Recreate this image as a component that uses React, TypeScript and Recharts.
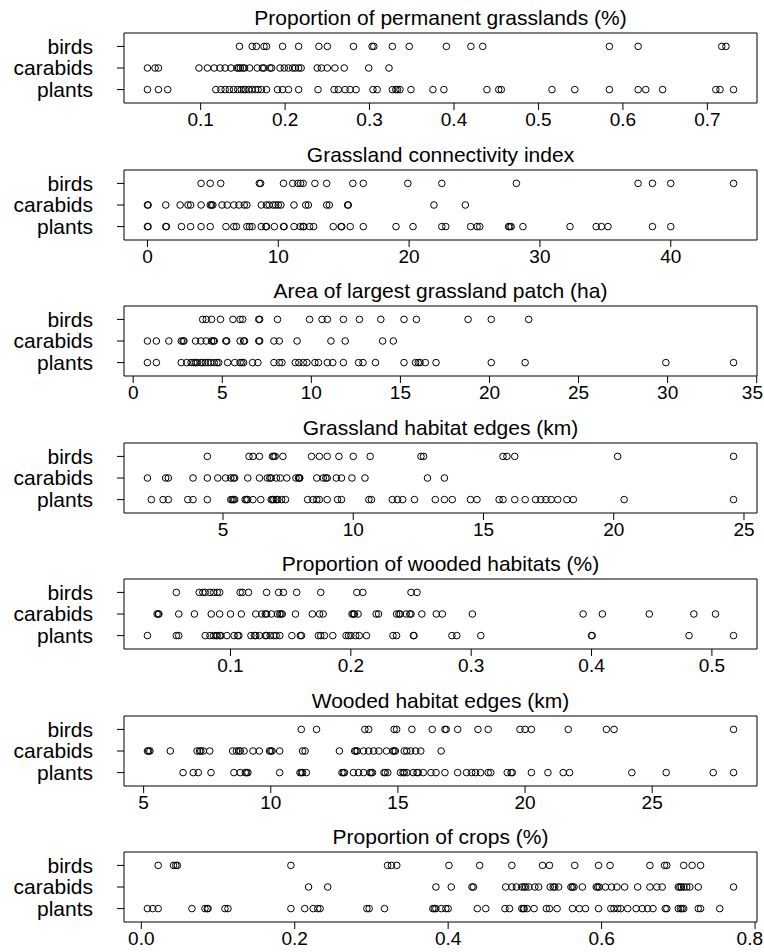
import React from "react";
import {
  ReferenceArea,
  Scatter,
  ScatterChart,
  XAxis,
  YAxis,
} from "recharts";

// Strip charts: one row per taxon.
const permGrassBirds = [0.146, 0.161, 0.166, 0.175, 0.178, 0.197, 0.216, 0.24, 0.25, 0.281, 0.303, 0.305, 0.327, 0.347, 0.391, 0.42, 0.434, 0.584, 0.618, 0.717, 0.722];
const permGrassCarabids = [0.037, 0.046, 0.05, 0.098, 0.108, 0.116, 0.123, 0.129, 0.136, 0.143, 0.145, 0.147, 0.15, 0.152, 0.158, 0.167, 0.173, 0.175, 0.182, 0.184, 0.194, 0.199, 0.204, 0.209, 0.212, 0.216, 0.219, 0.238, 0.243, 0.25, 0.259, 0.27, 0.299, 0.323];
const permGrassPlants = [0.037, 0.05, 0.061, 0.118, 0.124, 0.129, 0.134, 0.139, 0.144, 0.148, 0.151, 0.153, 0.157, 0.161, 0.165, 0.168, 0.172, 0.178, 0.191, 0.197, 0.204, 0.216, 0.239, 0.258, 0.263, 0.271, 0.277, 0.284, 0.304, 0.309, 0.327, 0.331, 0.333, 0.336, 0.349, 0.375, 0.388, 0.439, 0.453, 0.456, 0.516, 0.543, 0.584, 0.618, 0.627, 0.647, 0.71, 0.715, 0.731];

const connBirds = [4.1, 4.8, 5.6, 8.55, 8.65, 10.4, 11.1, 11.5, 11.7, 11.9, 12.8, 13.7, 15.7, 16.5, 19.9, 22.5, 28.2, 37.5, 38.6, 40.0, 44.8];
const connCarabids = [0, 0.05, 1.4, 2.5, 3.1, 3.3, 4.1, 4.8, 4.9, 5.0, 5.7, 6.1, 6.6, 7.0, 7.4, 7.6, 8.7, 9.1, 9.3, 9.6, 9.8, 10.0, 10.2, 11.2, 12.1, 12.3, 13.7, 13.9, 15.3, 15.35, 21.9, 24.3];
const connPlants = [0, 0.05, 1.4, 1.45, 2.6, 3.3, 4.1, 4.8, 6.0, 6.6, 6.8, 7.6, 7.8, 8.0, 8.7, 9.05, 9.1, 9.7, 10.4, 10.45, 11.2, 11.7, 11.9, 11.95, 12.4, 12.7, 14.2, 14.8, 14.85, 15.5, 16.5, 19.0, 20.3, 22.5, 22.8, 24.7, 25.2, 25.4, 27.6, 27.7, 27.8, 28.7, 32.3, 34.3, 34.7, 35.2, 38.6, 40.0];

const areaBirds = [3.9, 4.1, 4.4, 4.9, 5.6, 6.0, 6.15, 7.05, 7.1, 8.1, 9.9, 10.6, 10.9, 11.8, 12.7, 13.9, 15.2, 15.9, 18.8, 20.1, 22.2];
const areaCarabids = [0.8, 1.3, 2.0, 2.7, 2.8, 2.85, 3.5, 3.8, 4.1, 4.4, 4.5, 4.55, 5.2, 5.25, 6.0, 6.2, 6.25, 7.05, 7.1, 7.9, 8.2, 9.2, 11.1, 11.9, 14.0, 14.6];
const areaPlants = [0.8, 1.3, 2.7, 3.0, 3.25, 3.4, 3.5, 3.6, 3.8, 3.9, 4.05, 4.2, 4.35, 4.55, 4.7, 4.8, 5.3, 5.7, 6.0, 6.1, 6.2, 6.7, 7.0, 7.9, 8.2, 8.35, 9.1, 9.3, 9.55, 9.75, 10.2, 10.4, 10.9, 11.2, 11.8, 12.65, 12.9, 13.6, 15.2, 15.85, 16.0, 16.1, 16.4, 17.0, 20.1, 22.0, 29.9, 33.7];

const grassEdgeBirds = [4.4, 6.0, 6.15, 6.4, 6.9, 6.95, 7.0, 7.3, 8.4, 8.7, 9.0, 9.45, 10.0, 10.65, 12.6, 12.7, 15.75, 15.9, 16.2, 20.15, 24.6];
const grassEdgeCarabids = [2.1, 2.8, 2.9, 3.85, 4.4, 4.8, 5.1, 5.3, 5.4, 5.45, 5.95, 6.4, 6.7, 6.8, 6.85, 7.05, 7.2, 7.45, 7.8, 7.9, 7.93, 7.95, 8.6, 8.85, 8.95, 9.0, 9.35, 9.55, 9.95, 10.45, 12.85, 13.5];
const grassEdgePlants = [2.25, 2.7, 2.9, 3.65, 3.85, 4.4, 5.3, 5.35, 5.4, 5.45, 5.85, 5.9, 5.95, 6.15, 6.45, 6.85, 6.9, 6.95, 7.05, 7.1, 7.25, 7.4, 8.25, 8.45, 8.6, 8.7, 9.0, 9.4, 9.55, 10.6, 10.7, 11.5, 11.7, 11.9, 12.35, 13.15, 13.5, 13.8, 14.5, 14.75, 15.6, 15.75, 16.2, 16.6, 17.0, 17.2, 17.4, 17.6, 17.85, 18.2, 18.45, 20.4, 24.6];

const woodBirds = [0.055, 0.074, 0.077, 0.079, 0.083, 0.086, 0.089, 0.091, 0.108, 0.11, 0.115, 0.13, 0.14, 0.144, 0.155, 0.175, 0.205, 0.21, 0.25, 0.255];
const woodCarabids = [0.039, 0.04, 0.0405, 0.057, 0.07, 0.084, 0.091, 0.1, 0.109, 0.121, 0.126, 0.129, 0.13, 0.134, 0.139, 0.141, 0.142, 0.143, 0.154, 0.168, 0.174, 0.177, 0.201, 0.202, 0.203, 0.206, 0.221, 0.223, 0.238, 0.24, 0.241, 0.246, 0.249, 0.25, 0.259, 0.271, 0.276, 0.301, 0.393, 0.409, 0.448, 0.485, 0.503];
const woodPlants = [0.031, 0.055, 0.057, 0.079, 0.083, 0.086, 0.088, 0.089, 0.091, 0.092, 0.097, 0.103, 0.106, 0.107, 0.117, 0.12, 0.121, 0.124, 0.129, 0.13, 0.133, 0.136, 0.138, 0.141, 0.151, 0.158, 0.159, 0.173, 0.175, 0.178, 0.185, 0.196, 0.198, 0.2, 0.204, 0.207, 0.213, 0.235, 0.238, 0.252, 0.2525, 0.284, 0.288, 0.308, 0.4, 0.4005, 0.481, 0.518];

const woodEdgeBirds = [11.2, 11.8, 13.7, 13.85, 14.85, 14.95, 15.55, 16.35, 16.85, 16.9, 17.35, 18.15, 18.55, 19.8, 20.0, 20.25, 21.7, 23.2, 23.5, 28.2];
const woodEdgeCarabids = [5.15, 5.2, 5.25, 6.05, 7.1, 7.2, 7.25, 7.35, 7.6, 8.5, 8.65, 8.75, 8.8, 8.95, 9.3, 9.55, 9.95, 10.0, 10.05, 10.35, 11.25, 11.35, 12.7, 13.3, 13.35, 13.4, 13.65, 13.85, 14.05, 14.25, 14.55, 14.8, 14.85, 14.9, 15.25, 15.35, 15.5, 15.7, 15.9, 16.7];
const woodEdgePlants = [6.55, 6.95, 7.15, 7.65, 8.55, 8.8, 9.0, 9.05, 9.1, 10.35, 11.15, 11.2, 11.25, 11.4, 12.8, 12.85, 12.9, 13.25, 13.45, 13.65, 13.9, 13.95, 14.0, 14.45, 14.5, 14.6, 15.1, 15.2, 15.25, 15.35, 15.6, 15.75, 15.8, 16.0, 16.3, 16.5, 16.85, 17.35, 17.7, 17.9, 18.05, 18.25, 18.55, 18.65, 19.3, 19.45, 19.5, 20.25, 20.9, 21.5, 21.75, 24.2, 25.55, 27.4, 28.2];

const cropBirds = [0.022, 0.042, 0.045, 0.047, 0.195, 0.321, 0.326, 0.333, 0.401, 0.441, 0.483, 0.523, 0.532, 0.565, 0.596, 0.611, 0.663, 0.682, 0.685, 0.707, 0.718, 0.729];
const cropCarabids = [0.218, 0.243, 0.384, 0.404, 0.431, 0.433, 0.475, 0.483, 0.489, 0.496, 0.499, 0.501, 0.505, 0.513, 0.518, 0.533, 0.537, 0.539, 0.544, 0.56, 0.562, 0.564, 0.575, 0.593, 0.595, 0.597, 0.605, 0.613, 0.62, 0.63, 0.647, 0.663, 0.672, 0.679, 0.7, 0.702, 0.704, 0.707, 0.711, 0.715, 0.726, 0.772];
const cropPlants = [0.008, 0.015, 0.022, 0.066, 0.083, 0.086, 0.087, 0.109, 0.113, 0.195, 0.213, 0.224, 0.23, 0.233, 0.294, 0.297, 0.317, 0.38, 0.382, 0.384, 0.391, 0.397, 0.4, 0.438, 0.449, 0.474, 0.48, 0.496, 0.498, 0.499, 0.503, 0.512, 0.528, 0.532, 0.542, 0.562, 0.571, 0.579, 0.596, 0.612, 0.616, 0.621, 0.625, 0.634, 0.645, 0.653, 0.66, 0.667, 0.683, 0.685, 0.7, 0.703, 0.705, 0.707, 0.726, 0.729, 0.754];

const titles = [
  "Proportion of permanent grasslands (%)",
  "Grassland connectivity index",
  "Area of largest grassland patch (ha)",
  "Grassland habitat edges (km)",
  "Proportion of wooded habitats (%)",
  "Wooded habitat edges (km)",
  "Proportion of crops (%)",
];

const xTicks = [
  [0.1, 0.2, 0.3, 0.4, 0.5, 0.6, 0.7],
  [0, 10, 20, 30, 40],
  [0, 5, 10, 15, 20, 25, 30, 35],
  [5, 10, 15, 20, 25],
  [0.1, 0.2, 0.3, 0.4, 0.5],
  [5, 10, 15, 20, 25],
  [0.0, 0.2, 0.4, 0.6, 0.8],
];

const rowLabels: Record<number, string> = { 3: "birds", 2: "carabids", 1: "plants" };

const FONT = "'Liberation Sans', Arial, Helvetica, sans-serif";
const W = 764;
const PANEL_H = 136;
const PANEL_STEP = 136.5;
const PLOT_LEFT = 124;
const PLOT_RIGHT = 757;
const Y_DOMAIN: [number, number] = [0.38, 3.62];
const TICK_FONT = 19;

interface PanelProps {
  title: string;
  birds: number[];
  carabids: number[];
  plants: number[];
  ticks: number[];
  digits: number;
  top: number;
}

const OpenCircle = (props: any) => (
  <circle cx={props.cx} cy={props.cy} r={3.3} fill="none" stroke="#000" strokeWidth={1} />
);

// x tick label; the last one is right-aligned if it would run off the page
function XTick({ x, y, payload, digits }: any) {
  const label = Number(payload.value).toFixed(digits);
  const halfW = label.length * TICK_FONT * 0.28;
  const overflow = x + halfW > W - 1;
  return (
    <text
      x={overflow ? W - 1 : x}
      y={y}
      dy="0.71em"
      textAnchor={overflow ? "end" : "middle"}
      fill="#000"
      fontSize={TICK_FONT}
      fontFamily={FONT}
    >
      {label}
    </text>
  );
}

function StripPanel({ title, birds, carabids, plants, ticks, digits, top }: PanelProps) {
  // like R: data range padded by 4% on each side
  const all = [...birds, ...carabids, ...plants];
  const lo = Math.min(...all);
  const hi = Math.max(...all);
  const pad = (hi - lo) * 0.04;
  const domain: [number, number] = [lo - pad, hi + pad];

  const rows = [
    { key: "birds", y: 3, values: birds },
    { key: "carabids", y: 2, values: carabids },
    { key: "plants", y: 1, values: plants },
  ];

  return (
    <div style={{ position: "absolute", left: 0, top, width: W, height: PANEL_H }}>
      <div
        style={{
          position: "absolute",
          left: PLOT_LEFT,
          width: PLOT_RIGHT - PLOT_LEFT,
          top: 7,
          textAlign: "center",
          fontFamily: FONT,
          fontSize: 21,
          lineHeight: "21px",
          whiteSpace: "nowrap",
          color: "#000",
        }}
      >
        {title}
      </div>
      <ScatterChart
        width={W}
        height={PANEL_H}
        margin={{ top: 33, right: W - PLOT_RIGHT, bottom: 0, left: 0 }}
      >
        <XAxis
          type="number"
          dataKey="x"
          domain={domain}
          allowDataOverflow
          ticks={ticks}
          interval={0}
          height={33}
          axisLine={false}
          tickLine={{ stroke: "#000" }}
          tickSize={7}
          tickMargin={3}
          tick={<XTick digits={digits} />}
        />
        <YAxis
          type="number"
          dataKey="y"
          domain={Y_DOMAIN}
          allowDataOverflow
          ticks={[1, 2, 3]}
          interval={0}
          tickFormatter={(v: number) => rowLabels[v] ?? ""}
          width={PLOT_LEFT}
          axisLine={false}
          tickLine={{ stroke: "#000" }}
          tickSize={7}
          tickMargin={24}
          tick={{ fill: "#000", fontSize: 21, fontFamily: FONT }}
        />
        <ReferenceArea
          x1={domain[0]}
          x2={domain[1]}
          y1={Y_DOMAIN[0]}
          y2={Y_DOMAIN[1]}
          fill="none"
          stroke="#000"
          strokeWidth={1}
          ifOverflow="visible"
        />
        {rows.map((r) => (
          <Scatter
            key={r.key}
            data={r.values.map((v) => ({ x: v, y: r.y }))}
            shape={OpenCircle}
            isAnimationActive={false}
          />
        ))}
      </ScatterChart>
    </div>
  );
}

const panelData = [
  [permGrassBirds, permGrassCarabids, permGrassPlants],
  [connBirds, connCarabids, connPlants],
  [areaBirds, areaCarabids, areaPlants],
  [grassEdgeBirds, grassEdgeCarabids, grassEdgePlants],
  [woodBirds, woodCarabids, woodPlants],
  [woodEdgeBirds, woodEdgeCarabids, woodEdgePlants],
  [cropBirds, cropCarabids, cropPlants],
];
const tickDigits = [1, 0, 0, 0, 1, 0, 1];

export default function App() {
  return (
    <div
      style={{
        position: "absolute",
        left: 0,
        top: 0,
        width: W,
        height: 952,
        background: "#fff",
        overflow: "hidden",
      }}
    >
      {panelData.map(([b, c, p], i) => (
        <StripPanel
          key={titles[i]}
          title={titles[i]}
          birds={b}
          carabids={c}
          plants={p}
          ticks={xTicks[i]}
          digits={tickDigits[i]}
          top={Math.round(i * PANEL_STEP)}
        />
      ))}
    </div>
  );
}
